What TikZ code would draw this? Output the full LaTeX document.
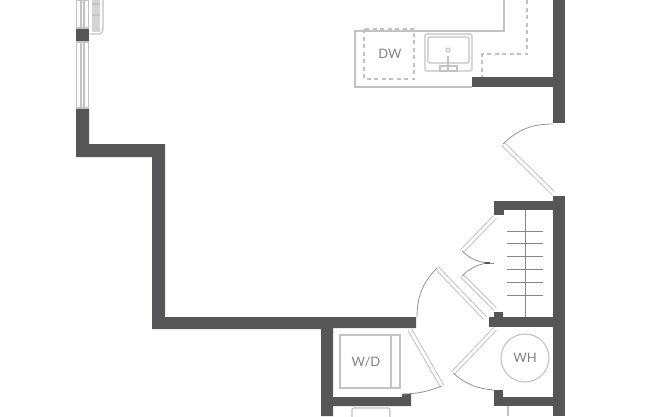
\documentclass[tikz,border=0pt]{standalone}
\usepackage{fontspec}
\setmainfont{Lato}
\usepackage{xcolor}
\usetikzlibrary{positioning,calc}
\definecolor{wallgray}{HTML}{565658}
\definecolor{fixgray}{HTML}{C2C2C2}
\definecolor{textgray}{HTML}{808080}

\begin{document}
\begin{tikzpicture}[
    x=1pt, y=-1pt,
    wall/.style={fill=wallgray, draw=none},
    fixture/.style={draw=fixgray, line width=1.1pt},
    dashline/.style={draw=fixgray, line width=1.1pt, dash pattern=on 4pt off 3.5pt},
    leaf/.style={draw=fixgray, line width=1pt, double=white, double distance=2.8pt},
    swing/.style={draw=gray!85, line width=0.8pt},
    tread/.style={draw=gray!95, line width=0.9pt},
    label/.style={font=\fontsize{13}{15}\selectfont, text=textgray, inner sep=0pt}
]
\useasboundingbox (0,0) rectangle (652,416);

% === Walls ===
\fill[wall] (76,108) -- (89,108) -- (89,144) -- (165,144) -- (165,317) -- (416,317) -- (416,328)
    -- (333,328) -- (333,397) -- (402,397) -- (402,394) -- (411,394) -- (411,406) -- (333,406)
    -- (333,416) -- (321,416) -- (321,329) -- (152,329) -- (152,157) -- (76,157) -- cycle;
\fill[wall] (76,28) rectangle (89,42);
\fill[wall] (553,0) rectangle (565,123);
\fill[wall] (472,77) rectangle (553,87);
\fill[wall] (553,196) rectangle (565,416);
\fill[wall] (494,201) rectangle (553,210);
\fill[wall] (494,210) rectangle (504,215);
\fill[wall] (489,317) rectangle (553,327);
\fill[wall] (494,312) rectangle (503,317);
\fill[wall] (494,390) rectangle (503,406);
\fill[wall] (503,397) rectangle (553,406);

% === Windows ===
\foreach \ya/\yb in {0/28, 42/108} {
    \draw[fixture] (76.5,\ya) -- (76.5,\yb) (88.5,\ya) -- (88.5,\yb);
    \draw[fixture] (81,\ya) -- (81,\yb) (84,\ya) -- (84,\yb);
    \draw[fixture] (76,\yb) -- (89,\yb) (76,\ya) -- (89,\ya);
}
\fill[fixgray!70] (92,0) rectangle (100,32);
\draw[fixture] (90,34) -- (100,34) to[out=0,in=90] (103,28) -- (103,0);
\draw[fixture] (92,4) -- (100,4) (92,15) -- (100,15);

% === Kitchen counter ===
\draw[fixture] (504,0) -- (504,31) -- (355,31) -- (355,87) -- (472,87);
\draw[dashline] (364,29) rectangle (414,79);
\draw[dashline] (527,0) -- (527,54) -- (482,54) -- (482,77);
\node[label] (dw) at (390,54) {DW};

% Sink
\draw[fixture, rounded corners=1.5pt] (425,34) rectangle (472,71);
\draw[fixture, rounded corners=1.5pt] (428,37) rectangle (469,63);
\draw[fixture] (448,50) circle (2pt);
\draw[fixture, line width=1.6pt] (448,56) -- (448,70);
\draw[fixture] (440,66) rectangle (457,71);

% === Doors ===
\coordinate (entryhinge) at (553,193);
\coordinate (entryend) at (503,144);
\draw[leaf] (entryhinge) -- (entryend);
\draw[swing] (553,124) to[bend right=22] (entryend);

\coordinate (closetend) at (437,268);
\draw[leaf] (485,318) -- (closetend);
\draw[swing] (closetend) to[bend right=22] (417,317);

% Bifold
\draw[leaf] (495,217) -- (462,251);
\draw[leaf] (495,309) -- (462,276);
\draw[swing] (462,251) to[bend right=17] (487,263);
\draw[swing] (462,276) to[bend left=17] (487,263);
\draw[draw=wallgray, line width=1.2pt] (485,263) -- (490,263);
\draw[swing] (490,263) -- (494,263);

\coordinate (wdend) at (442,386);
\draw[leaf] (410,330) -- (wdend);
\draw[swing] (wdend) to[bend left=10] (402,394);

\coordinate (whend) at (453,373);
\draw[leaf] (495,329) -- (whend);
\draw[swing] (whend) to[bend right=18] (494,390);

% === Stairs ===
\draw[tread] (525,210) -- (525,317);
\foreach \y in {231,243.5,256,269,282,295} {
    \draw[tread] (507,\y) -- (543,\y);
}

% === Laundry ===
\draw[fixture] (340,335) rectangle (400,388);
\draw[fixture] (391,335) -- (391,388);
\node[label] (wd) at (366,362) {W/D};
\draw[fixture, rounded corners=2pt] (352,417) -- (352,408) -- (390,408) -- (390,417);

% === Water heater ===
\draw[fixture] (525,358) circle (24pt);
\node[label] (wh) at (525,358) {WH};
\draw[fixture] (508,406) -- (508,416);
\end{tikzpicture}
\end{document}
